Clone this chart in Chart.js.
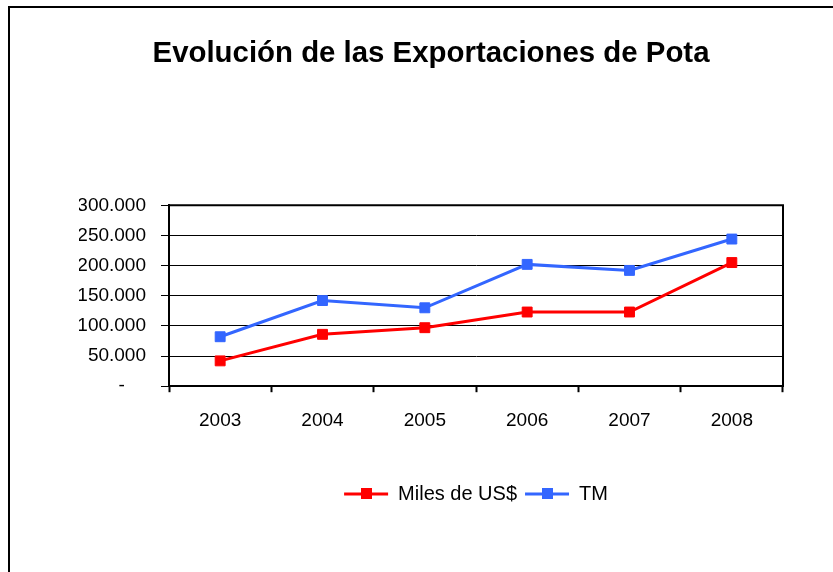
<!DOCTYPE html>
<html>
<head>
<meta charset="utf-8">
<script src="https://cdn.jsdelivr.net/npm/chart.js@4"></script>
<style>
  html, body { margin: 0; padding: 0; background: #fff; }
  #wrap { position: relative; width: 833px; height: 572px; overflow: hidden; }
  #marco { position: absolute; left: 8px; top: 6px; width: 900px; height: 700px; border: 2px solid #000; }
  canvas { position: absolute; left: 0; top: 0; }
</style>
</head>
<body>
<div id="wrap">
  <div id="marco"></div>
  <canvas id="grafico" width="833" height="572"></canvas>
</div>
<script>
// Datos
const anios = ['2003', '2004', '2005', '2006', '2007', '2008'];
const milesUSD = [42000, 86000, 97000, 123000, 123000, 205000];
const toneladas = [82000, 142000, 130000, 202000, 192000, 244000];
const ticksY = [0, 50000, 100000, 150000, 200000, 250000, 300000];

// Formato tipo contable: 50.000 / "-" para cero
const fmtMiles = (v) => v === 0 ? '-    ' : String(v / 1000) + '.000';

Chart.defaults.font.family = '"Liberation Sans", Arial, sans-serif';
Chart.defaults.color = '#000';

// Marco superior y derecho del área de trazado
const marcoArea = {
  id: 'marcoArea',
  beforeDatasetsDraw(chart) {
    const { ctx, chartArea: a } = chart;
    ctx.save();
    ctx.strokeStyle = '#000';
    ctx.lineWidth = 2;
    ctx.beginPath();
    ctx.moveTo(a.left, a.top);
    ctx.lineTo(a.right, a.top);
    ctx.lineTo(a.right, a.bottom);
    ctx.stroke();
    ctx.restore();
  }
};

// Cuadrado sobre la línea de cada entrada de la leyenda
const marcadorLeyenda = {
  id: 'marcadorLeyenda',
  afterDraw(chart) {
    const lg = chart.legend;
    if (!lg || !lg.legendHitBoxes) return;
    const bw = chart.options.plugins.legend.labels.boxWidth;
    const ctx = chart.ctx;
    lg.legendHitBoxes.forEach((h, i) => {
      const ds = chart.data.datasets[i];
      const cx = h.left + bw / 2;
      const cy = h.top + h.height / 2;
      ctx.save();
      ctx.fillStyle = ds.borderColor;
      ctx.fillRect(Math.round(cx - 5.5), Math.round(cy - 5.5), 11, 11);
      ctx.restore();
    });
  }
};

const ctx = document.getElementById('grafico').getContext('2d');
new Chart(ctx, {
  type: 'line',
  data: {
    labels: anios,
    datasets: [
      {
        label: 'Miles de US$',
        data: milesUSD,
        borderColor: '#FF0000',
        backgroundColor: '#FF0000',
        borderWidth: 3,
        pointStyle: 'rect',
        pointRadius: 7,
        pointBorderWidth: 1,
        tension: 0,
        fill: false
      },
      {
        label: 'TM',
        data: toneladas,
        borderColor: '#3366FF',
        backgroundColor: '#3366FF',
        borderWidth: 3,
        pointStyle: 'rect',
        pointRadius: 7,
        pointBorderWidth: 1,
        tension: 0,
        fill: false
      }
    ]
  },
  options: {
    responsive: false,
    animation: false,
    events: [],
    layout: { padding: { left: 79, right: 50, top: 0, bottom: 58 } },
    plugins: {
      title: {
        display: true,
        text: 'Evolución de las Exportaciones de Pota',
        color: '#000',
        font: { size: 29.4, weight: 'bold' },
        padding: { top: 36, bottom: 134 }
      },
      legend: {
        position: 'bottom',
        fullSize: false,
        labels: {
          boxWidth: 44,
          boxHeight: 3,
          color: '#000',
          font: { size: 20 },
          padding: 8,
          generateLabels: (ch) => ch.data.datasets.map((d, i) => ({
            text: d.label,
            fillStyle: d.borderColor,
            strokeStyle: d.borderColor,
            lineWidth: 0,
            hidden: false,
            datasetIndex: i,
            fontColor: '#000'
          }))
        }
      },
      tooltip: { enabled: false }
    },
    scales: {
      x: {
        offset: true,
        afterFit: (a) => { a.height += 27; },
        grid: { drawOnChartArea: false, drawTicks: true, tickLength: 6, tickColor: '#000', tickWidth: 2, offset: true },
        border: { color: '#000', width: 2 },
        ticks: { color: '#000', font: { size: 19 }, padding: 17, maxRotation: 0 }
      },
      y: {
        min: 0,
        max: 300000,
        afterBuildTicks: (a) => { a.ticks = ticksY.map(v => ({ value: v })); },
        afterFit: (a) => { a.width = 90; },
        grid: { color: '#000', lineWidth: 1, tickLength: 8, tickColor: '#000' },
        border: { color: '#000', width: 2 },
        ticks: { color: '#000', font: { size: 19 }, padding: 15, callback: (v) => fmtMiles(v) }
      }
    }
  },
  plugins: [marcoArea, marcadorLeyenda]
});
</script>
</body>
</html>
